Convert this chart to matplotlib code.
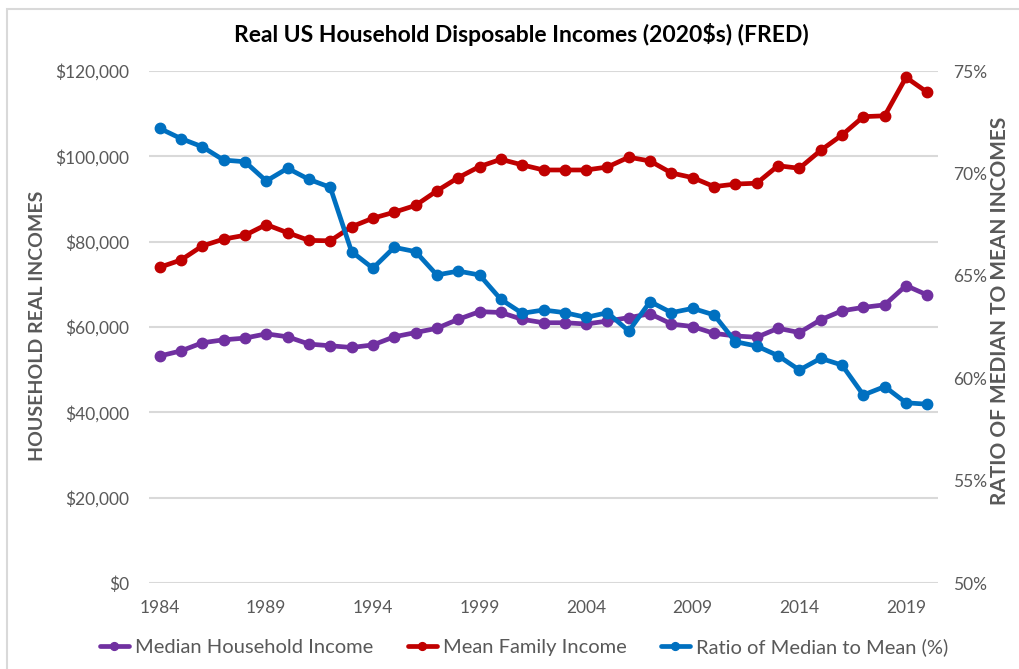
import matplotlib
matplotlib.use("Agg")
import matplotlib.pyplot as plt
from matplotlib.patches import Rectangle
from matplotlib.ticker import FuncFormatter, MultipleLocator

plt.rcParams['font.family'] = ['Lato', 'DejaVu Sans']

years = list(range(1984, 2021))

median_household = [
    53.2, 54.4, 56.3, 57.0, 57.4, 58.4, 57.7, 56.0, 55.6, 55.2,
    55.8, 57.7, 58.7, 59.7, 61.8, 63.6, 63.4, 61.8, 61.0, 61.0,
    60.7, 61.4, 62.2, 63.1, 60.7, 60.1, 58.5, 57.9, 57.6, 59.7,
    58.7, 61.7, 63.8, 64.6, 65.2, 69.7, 67.5,
]
median_household = [v * 1000 for v in median_household]

mean_family = [
    74.0, 75.7, 79.0, 80.6, 81.5, 84.0, 82.1, 80.3, 80.2, 83.5,
    85.5, 86.9, 88.5, 91.9, 95.0, 97.6, 99.3, 98.0, 96.8, 96.8,
    96.8, 97.5, 99.8, 98.9, 96.1, 95.0, 92.9, 93.5, 93.7, 97.8,
    97.2, 101.4, 105.0, 109.3, 109.5, 118.5, 115.0,
]
mean_family = [v * 1000 for v in mean_family]

ratio_pct = [
    72.2, 71.7, 71.3, 70.65, 70.57, 69.63, 70.25, 69.71, 69.32, 66.18,
    65.37, 66.39, 66.18, 65.04, 65.23, 65.04, 63.85, 63.17, 63.33, 63.20,
    62.97, 63.20, 62.30, 63.74, 63.20, 63.41, 63.09, 61.78, 61.57, 61.10,
    60.40, 60.97, 60.64, 59.18, 59.59, 58.80, 58.73,
]

xtick_years = [1984, 1989, 1994, 1999, 2004, 2009, 2014, 2019]

title = "Real US Household Disposable Incomes (2020$s) (FRED)"
left_label = "HOUSEHOLD REAL INCOMES"
right_label = "RATIO OF MEDIAN TO MEAN INCOMES"
series_names = ["Median Household Income", "Mean Family Income",
                "Ratio of Median to Mean (%)"]

PURPLE = "#7030A0"
RED = "#C00000"
BLUE = "#0070C0"
GREY_TXT = "#595959"
GRID = "#D9D9D9"

W, H = 1019, 669
fig = plt.figure(figsize=(W / 100, H / 100), dpi=100)
fig.patch.set_facecolor("white")

# outer chart frame
fig.patches.append(Rectangle((7 / W, -0.05), 1.1, 1 - 9 / H + 0.05,
                             transform=fig.transFigure, fill=False,
                             edgecolor=GRID, linewidth=1.5))

ax = fig.add_axes([149 / W, 1 - 583 / H, (938 - 149) / W, (583 - 71) / H])
ax2 = ax.twinx()

line_kw = dict(linewidth=3.4, marker="o", markersize=7.5, solid_capstyle="round")
l1, = ax.plot(years, median_household, color=PURPLE, label=series_names[0], **line_kw)
l2, = ax.plot(years, mean_family, color=RED, label=series_names[1], **line_kw)
l3, = ax2.plot(years, ratio_pct, color=BLUE, label=series_names[2], **line_kw)

ax.set_xlim(1983.5, 2020.5)
ax.set_ylim(0, 120000)
ax2.set_ylim(50, 75)

ax.yaxis.set_major_locator(MultipleLocator(20000))
ax.yaxis.set_major_formatter(FuncFormatter(lambda v, p: f"${v:,.0f}"))
ax2.yaxis.set_major_locator(MultipleLocator(5))
ax2.yaxis.set_major_formatter(FuncFormatter(lambda v, p: f"{v:.0f}%"))
ax.set_xticks(xtick_years)
ax.set_xticklabels([str(y) for y in xtick_years])

ax.grid(axis="y", color=GRID, linewidth=1.5)
ax.set_axisbelow(True)
for a in (ax, ax2):
    for s in a.spines.values():
        s.set_visible(False)
    a.tick_params(length=0, colors=GREY_TXT, labelsize=12.5)
ax.tick_params(axis="y", pad=14)
ax.tick_params(axis="x", pad=12)
ax2.tick_params(axis="y", pad=11)

fig.text(521 / W, 1 - 34 / H, title, ha="center", va="center",
         fontsize=16.5, fontweight="bold", color="black")
fig.text(38 / W, 1 - 326 / H, left_label, ha="center", va="center",
         rotation=90, fontsize=14, fontweight="bold", color=GREY_TXT)
fig.text(1000 / W, 1 - 311 / H, right_label, ha="center", va="center",
         rotation=90, fontsize=15, fontweight="bold", color=GREY_TXT)

leg = fig.legend(handles=[l1, l2, l3], loc="center", ncol=3,
                 bbox_to_anchor=(524 / W, 1 - 647 / H), frameon=False,
                 fontsize=14.5, handlelength=1.45, handletextpad=0.3,
                 columnspacing=1.7, markerscale=0.75)
for t in leg.get_texts():
    t.set_color(GREY_TXT)

fig.savefig("out.png", dpi=100, facecolor="white")
